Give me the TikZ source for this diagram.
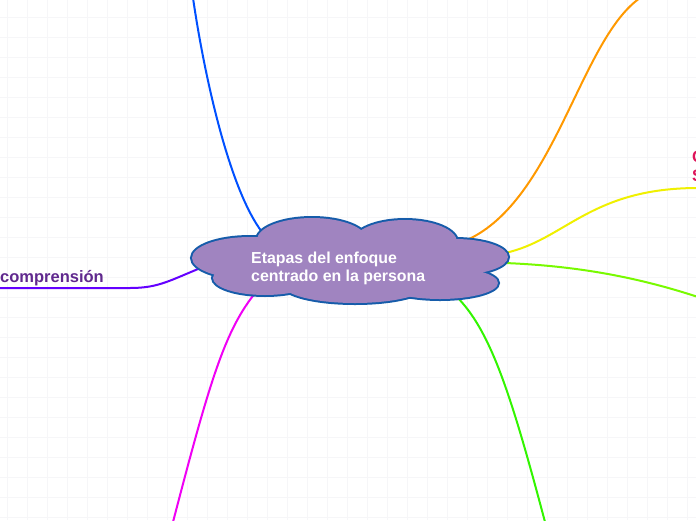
\documentclass[tikz,border=0pt]{standalone}
\usepackage{fontspec}
\setmainfont{Liberation Sans}
\definecolor{gridc}{RGB}{246,246,248}
\definecolor{cfill}{RGB}{160,132,192}
\definecolor{cborder}{RGB}{22,92,170}
\definecolor{cblue}{RGB}{0,80,255}
\definecolor{corange}{RGB}{255,153,0}
\definecolor{cyellow}{RGB}{240,240,0}
\definecolor{clime}{RGB}{120,250,0}
\definecolor{cgreen}{RGB}{50,245,0}
\definecolor{cmagenta}{RGB}{240,0,245}
\definecolor{cviolet}{RGB}{100,0,255}
\definecolor{tpurple}{RGB}{96,40,142}
\definecolor{tred}{RGB}{222,20,90}
\tikzset{
  gridline/.style={draw=gridc, line width=0.8pt},
  conn/.style={line width=2pt, line cap=round},
  roottext/.style={text=white, font=\fontsize{15.9}{18}\selectfont\bfseries, align=left, inner sep=0pt},
  subtext/.style={font=\fontsize{16.5}{19}\selectfont\bfseries, inner sep=0pt},
}
\begin{document}
\begin{tikzpicture}[x=1pt,y=-1pt]
\useasboundingbox (0,0) rectangle (696,520);
\fill[white] (0,0) rectangle (696,520);
% grid
\foreach \i in {0,...,34} \draw[gridline] ({7+20*\i},0) -- ({7+20*\i},520);
\foreach \j in {0,...,25} \draw[gridline] (0,{17+20*\j}) -- (696,{17+20*\j});

% connector end points
\coordinate (bS) at (262,232);
\coordinate (bE) at (193,-2);
\coordinate (oS) at (467,240);
\coordinate (oE) at (640,-2);
\coordinate (yS) at (505,253);
\coordinate (yE) at (698,188);
\coordinate (lS) at (505,263);
\coordinate (lE) at (698,297);
\coordinate (gS) at (456,296);
\coordinate (gE) at (545,522);
\coordinate (mS) at (256,292);
\coordinate (mE) at (173,522);
\coordinate (vS) at (208,265);
\coordinate (vM) at (130,288);
\coordinate (vE) at (-2,288);

% connectors
\draw[conn, cblue] (bS) .. controls (230,190) and (205,80) .. (bE);
\draw[conn, corange] (oS) .. controls (555,200) and (580,40) .. (oE);
\draw[conn, cyellow] (yS) .. controls (565,240) and (590,188) .. (yE);
\draw[conn, clime] (lS) .. controls (580,266) and (640,278) .. (lE);
\draw[conn, cgreen] (gS) .. controls (490,330) and (510,390) .. (gE);
\draw[conn, cmagenta] (mS) .. controls (225,330) and (210,380) .. (mE);
\draw[conn, cviolet] (vS) .. controls (170,280) and (160,288) .. (vM) -- (vE);

% cloud
\def\cloudparts{250/258/58/21, 312/240/55/22, 405/242/52/22, 455/257/53/18, 440/283/58/16, 355/285/72/18, 265/278/52/17, 350/260/120/25}
\foreach \cx/\cy/\rx/\ry in \cloudparts
  \draw[cborder, line width=4pt] (\cx,\cy) ellipse [x radius=\rx, y radius=\ry];
\foreach \cx/\cy/\rx/\ry in \cloudparts
  \fill[cfill] (\cx,\cy) ellipse [x radius=\rx, y radius=\ry];
\coordinate (cloud) at (350,260);

\node[roottext, anchor=base west] (root) at (251,281) {Etapas del enfoque\\centrado en la persona};

\node[subtext, text=tpurple, anchor=base west] (left) at (0,282) {comprensión};
\node[subtext, text=tred, anchor=base west, align=left] (right) at (692,181) {C\\S};
\end{tikzpicture}
\end{document}
